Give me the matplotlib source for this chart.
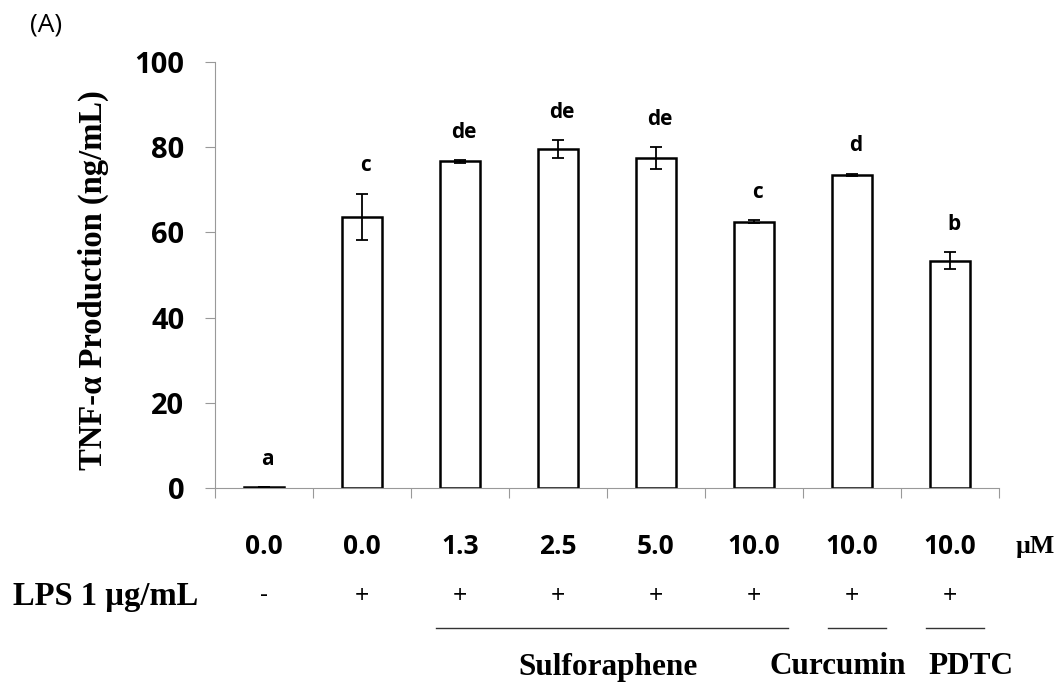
import numpy as np
import matplotlib
matplotlib.use('Agg')
import matplotlib.pyplot as plt
import matplotlib.transforms as mtransforms

# data
doses = ['0.0', '0.0', '1.3', '2.5', '5.0', '10.0', '10.0', '10.0']
lps = ['-', '+', '+', '+', '+', '+', '+', '+']
tnf = [0.2, 63.6, 76.7, 79.6, 77.5, 62.5, 73.5, 53.4]
err = [0.0, 5.5, 0.3, 2.1, 2.6, 0.3, 0.3, 1.9]
letters = ['a', 'c', 'de', 'de', 'de', 'c', 'd', 'b']
groups = ['Sulforaphene', 'Curcumin', 'PDTC']
group_first = [2, 6, 7]
group_last = [5, 6, 7]
group_label_x = [3.51, 5.86, 7.21]  # label centres, category units

sans = 'Open Sans'
serif = 'Liberation Serif'

W, H = 1063, 690
fig = plt.figure(figsize=(W / 100, H / 100), dpi=100)
ax = fig.add_axes([215 / W, 1 - 488 / H, 784 / W, 426 / H])

x = np.arange(len(tnf))
ax.bar(x, tnf, width=0.41, color='white', edgecolor='black', linewidth=1.8, zorder=2)
ax.errorbar(x, tnf, yerr=err, fmt='none', ecolor='black', elinewidth=1.3,
            capsize=4, capthick=1.3, zorder=3)

for xi, v, e, lab in zip(x, tnf, err, letters):
    ax.text(xi + 0.04, v + e + 6.5, lab, ha='center', va='center',
            fontsize=15, fontweight='bold', family=sans)

ax.set_xlim(-0.5, len(tnf) - 0.5)
ax.set_ylim(0, 100)
ax.set_yticks(np.arange(0, 101, 20))
ax.set_yticklabels([str(v) for v in range(0, 101, 20)], fontsize=21,
                   fontweight='bold', family=sans)
ax.set_xticks(np.arange(-0.5, len(tnf), 1.0))
ax.set_xticklabels([])
ax.tick_params(axis='both', direction='out', length=7, width=0.8, color='#999999')
ax.tick_params(axis='y', pad=15)
for s in ['top', 'right']:
    ax.spines[s].set_visible(False)
for s in ['left', 'bottom']:
    ax.spines[s].set_color('#999999')
    ax.spines[s].set_linewidth(0.8)
ax.set_ylabel('TNF-α Production (ng/mL)', fontsize=23.5, fontweight='bold',
              family=serif, va='center')
ax.yaxis.set_label_coords((93 - 215) / 784, (488 - 280) / 426)

trans = mtransforms.blended_transform_factory(ax.transData, fig.transFigure)

for xi, d, l in zip(x, doses, lps):
    ax.text(xi, 1 - 547 / H, d, transform=trans, ha='center', va='center',
            fontsize=19, fontweight='bold', family=sans)
    ax.text(xi, 1 - 596 / H, l, transform=trans, ha='center', va='center',
            fontsize=18, family=sans)
fig.text(1016 / W, 1 - 547 / H, 'µM', ha='left', va='center',
         fontsize=18.5, fontweight='bold', family=serif)
fig.text(13 / W, 1 - 597 / H, 'LPS 1 µg/mL', ha='left', va='center',
         fontsize=23.5, fontweight='bold', family=serif)

for g, a, b, lx in zip(groups, group_first, group_last, group_label_x):
    ax.plot([a - 0.25, b + 0.35], [1 - 628 / H] * 2, transform=trans,
            color='#333333', linewidth=1.0, clip_on=False)
    ax.text(lx, 1 - 667 / H, g, transform=trans, ha='center',
            va='center', fontsize=22.5, fontweight='bold', family=serif)

fig.text(30 / W, 1 - 25 / H, '(A)', ha='left', va='center', fontsize=19,
         family=sans)

fig.savefig('out.png', dpi=100, facecolor='white')
